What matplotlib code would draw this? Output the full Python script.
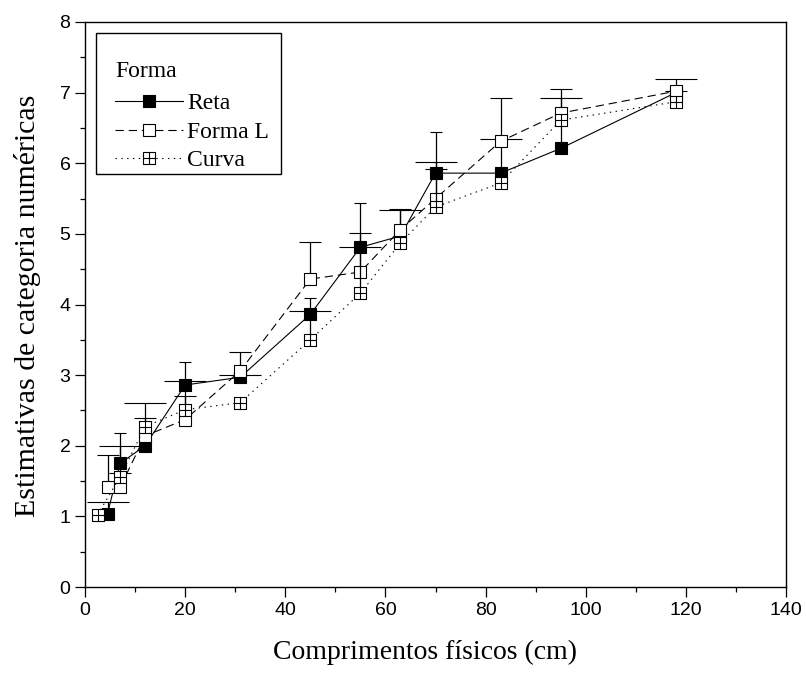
import numpy as np
import matplotlib
matplotlib.use("Agg")
import matplotlib.pyplot as plt
from matplotlib.path import Path
from matplotlib.patches import Rectangle

# ---------------- data ----------------
x_reta = [4.5, 7, 12, 20, 31, 45, 55, 63, 70, 83, 95, 118]
y_reta = [1.04, 1.75, 2.0, 2.86, 2.97, 3.86, 4.81, 4.97, 5.86, 5.86, 6.21, 7.0]
e_reta = [0.17, 0.25, 0.61, 0.05, 0.03, 0.05, 0.01, 0.37, 0.16, 0.49, 0.72, 0.2]

x_forma = [4.5, 7, 12, 20, 31, 45, 55, 63, 70, 83, 95, 118]
y_forma = [1.41, 1.41, 2.14, 2.37, 3.06, 4.36, 4.46, 5.06, 5.5, 6.31, 6.71, 7.02]
e_forma = [0.46, 0.2, 0.25, 0.33, 0.27, 0.52, 0.55, 0.29, 0.42, 0.62, 0.34, 0.0]

x_curva = [2.5, 7, 12, 20, 31, 45, 55, 63, 70, 83, 95, 118]
y_curva = [1.02, 1.56, 2.27, 2.51, 2.61, 3.5, 4.16, 4.87, 5.38, 5.72, 6.61, 6.87]
e_curva = [0.0, 0.62, 0.0, 0.68, 0.0, 0.59, 1.28, 0.0, 1.06, 0.0, 0.0, 0.0]

labels = ["Reta", "Forma L", "Curva"]
legend_title = "Forma"
xlabel = "Comprimentos físicos (cm)"
ylabel = "Estimativas de categoria numéricas"

# ---------------- style ----------------
plt.rcParams["lines.scale_dashes"] = False
serif = ["Liberation Serif", "DejaVu Serif"]
sans = ["Liberation Sans", "DejaVu Sans"]

# square with a plus inside
verts = [(-1, -1), (1, -1), (1, 1), (-1, 1), (-1, -1),
         (0, -1), (0, 1), (-1, 0), (1, 0)]
codes = [Path.MOVETO, Path.LINETO, Path.LINETO, Path.LINETO, Path.CLOSEPOLY,
         Path.MOVETO, Path.LINETO, Path.MOVETO, Path.LINETO]
cross_sq = Path(verts, codes)

W, H = 806, 679
fig = plt.figure(figsize=(W / 100, H / 100), dpi=100)
L, R, T, B = 85, 786, 22, 587
ax = fig.add_axes([L / W, 1 - B / H, (R - L) / W, (B - T) / H])

lw = 0.8
ms = 8.6
series = [
    (x_reta, y_reta, e_reta, "s", "black", (None, None), 15.0, 2),
    (x_forma, y_forma, e_forma, "s", "white", (6, 3.5), 7.9, 3),
    (x_curva, y_curva, e_curva, cross_sq, "white", (1.0, 3.2), 4.3, 4),
]
handles = []
for (xs, ys, es, mk, fc, dash, cap, z), lab in zip(series, labels):
    xs = np.asarray(xs, float)
    ys = np.asarray(ys, float)
    es = np.asarray(es, float)
    cont = ax.errorbar(xs, ys, yerr=[np.zeros_like(es), es], color="black",
                       lw=lw, marker=mk, ms=ms, mfc=fc, mec="black", mew=0.8,
                       capsize=cap, capthick=0.9, elinewidth=0.9, ecolor="black",
                       zorder=z, label=lab)
    line, caplines, bars = cont
    if dash[0] is None:
        line.set_linestyle("-")
    else:
        line.set_dashes(dash)
    for cl in caplines:
        if np.allclose(cl.get_ydata(), ys):
            cl.set_visible(False)
    handles.append(line)

ax.set_xlim(0, 140)
ax.set_ylim(0, 8)
ax.set_xticks(np.arange(0, 141, 20))
ax.set_xticks(np.arange(10, 140, 20), minor=True)
ax.set_yticks(np.arange(0, 9, 1))
ax.set_yticks(np.arange(0.5, 8, 1), minor=True)
ax.tick_params(which="major", direction="out", length=7.5, width=0.9,
               labelsize=14, pad=3)
ax.tick_params(which="minor", direction="out", length=3.8, width=0.9)
for lbl in ax.get_xticklabels() + ax.get_yticklabels():
    lbl.set_family(sans)
for sp in ax.spines.values():
    sp.set_linewidth(1.0)

ax.set_xlabel(xlabel, family=serif, fontsize=20)
ax.set_ylabel(ylabel, family=serif, fontsize=21.5)
ax.xaxis.set_label_coords((425 - L) / (R - L), (B - 640) / (B - T))
ax.yaxis.set_label_coords((41 - L) / (R - L), 0.497)

leg = ax.legend(handles, labels, title="\n" + legend_title,
                loc="upper left",
                bbox_to_anchor=((107 - L) / (R - L), (B - 37) / (B - T)),
                borderaxespad=0, frameon=False,
                prop={"family": serif, "size": 17},
                title_fontproperties={"family": serif, "size": 17},
                handlelength=2.85, handletextpad=0.2, labelspacing=0.29,
                borderpad=0.35, alignment="left")
leg.get_title().set_linespacing(0.70)
leg.set_zorder(6)
# a little more room between the title and the entries
leg._legend_box.sep = leg._legend_box.sep + 2.6

# frame drawn around the legend, extended as in the original
fig.canvas.draw()
bb = leg.get_window_extent()
extra_left, extra_right, extra_top, extra_bottom = 11, 4, 4, -5
frame = Rectangle((bb.x0 - extra_left, bb.y0 - extra_bottom),
                  bb.width + extra_left + extra_right,
                  bb.height + extra_top + extra_bottom,
                  transform=None, fill=True, facecolor="white",
                  edgecolor="black", linewidth=1.0, zorder=5.5, clip_on=False)
ax.add_artist(frame)

fig.savefig("out.png", dpi=100)
